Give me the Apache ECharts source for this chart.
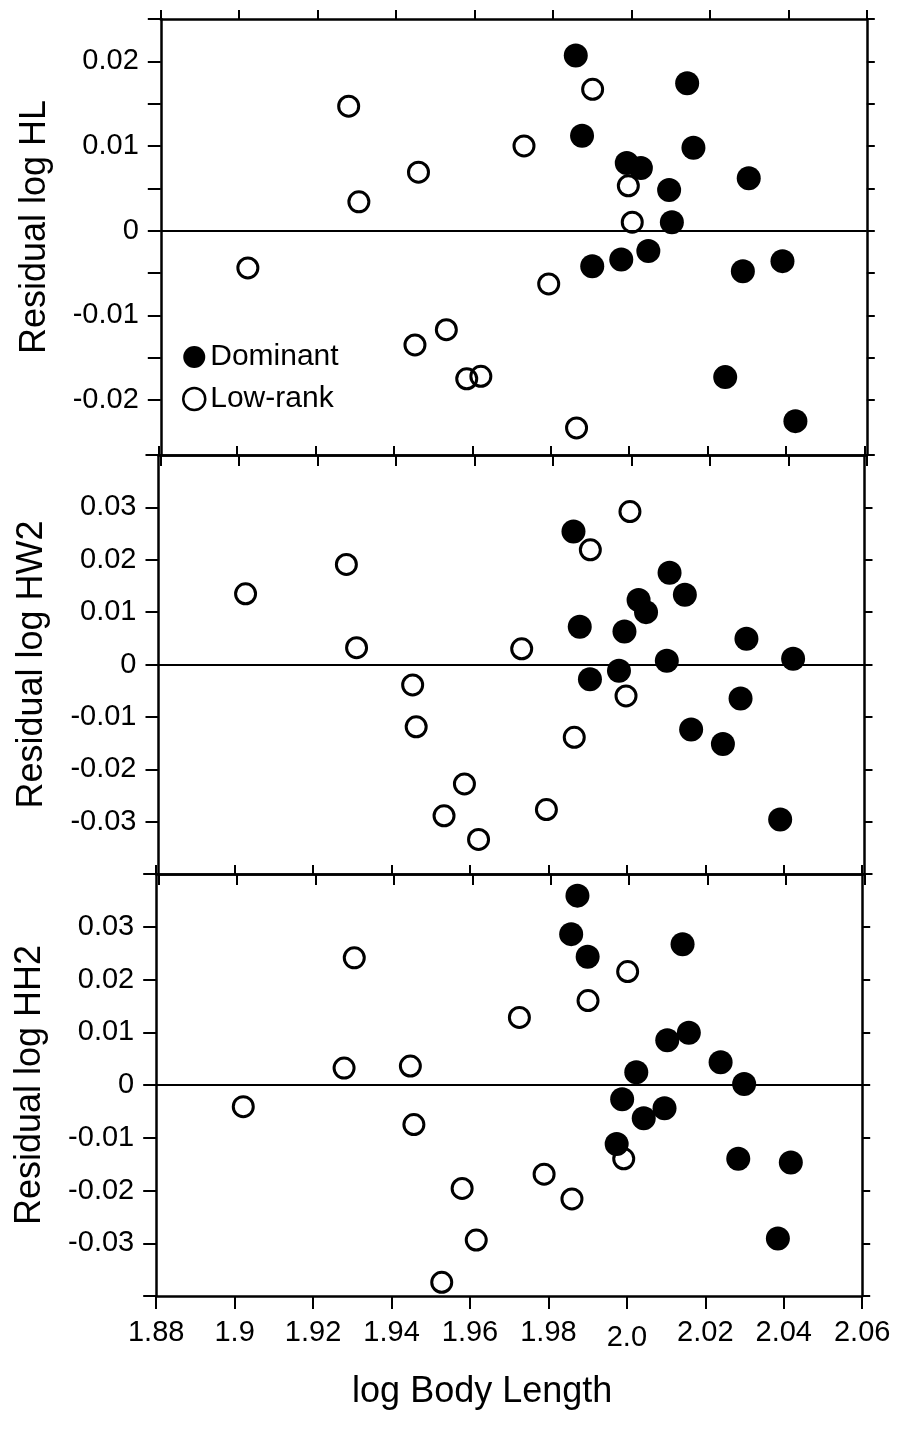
<!DOCTYPE html>
<html><head><meta charset="utf-8">
<script src="https://cdn.jsdelivr.net/npm/echarts@6/dist/echarts.min.js"></script>
<style>html,body{margin:0;padding:0;background:#fff}#c{width:900px;height:1445px}</style>
</head><body><div id="c"></div>
<script>
// ---- data ----
const xTickValues = [1.88, 1.90, 1.92, 1.94, 1.96, 1.98, 2.00, 2.02, 2.04, 2.06];
const xTickLabels = ['1.88', '1.9', '1.92', '1.94', '1.96', '1.98', '2.0', '2.02', '2.04', '2.06'];

const xDominant = [1.9858, 1.9874, 1.9900, 1.9974, 1.9988, 2.0024, 2.0043, 2.0096, 2.0103, 2.0142, 2.0158, 2.0239, 2.0284, 2.0299, 2.0385, 2.0418];
const hlDominant = [0.0207, 0.0112, -0.0042, -0.0034, 0.0080, 0.0074, -0.0024, 0.0048, 0.0010, 0.0174, 0.0098, -0.0173, -0.0048, 0.0062, -0.0036, -0.0225];
const hw2Dominant = [0.0254, 0.0072, -0.0028, -0.0012, 0.0063, 0.0123, 0.0100, 0.0007, 0.0175, 0.0133, -0.0124, -0.0152, -0.0065, 0.0049, -0.0296, 0.0011];
const hh2Dominant = [0.0286, 0.0359, 0.0243, -0.0112, -0.0027, 0.0024, -0.0063, -0.0044, 0.0085, 0.0267, 0.0099, 0.0043, -0.0140, 0.0002, -0.0291, -0.0147];

const xLowRank = [1.9022, 1.9279, 1.9305, 1.9448, 1.9457, 1.9528, 1.9580, 1.9616, 1.9726, 1.9789, 1.9860, 1.9901, 1.9992, 2.0002];
const hlLowRank = [-0.0044, 0.0147, 0.0034, -0.0135, 0.0069, -0.0117, -0.0175, -0.0172, 0.0100, -0.0063, -0.0233, 0.0167, 0.0053, 0.0010];
const hw2LowRank = [0.0135, 0.0191, 0.0032, -0.0039, -0.0119, -0.0289, -0.0228, -0.0334, 0.0030, -0.0277, -0.0139, 0.0219, -0.0060, 0.0292];
const hh2LowRank = [-0.0041, 0.0032, 0.0241, 0.0036, -0.0075, -0.0374, -0.0196, -0.0294, 0.0128, -0.0169, -0.0216, 0.0160, -0.0140, 0.0215];

const panelNames = ['Residual log HL', 'Residual log HW2', 'Residual log HH2'];
const panelMin = [-0.0265, -0.04, -0.04];
const panelMax = [0.025, 0.04, 0.04];
const yTickValuesHL = [-0.0265, -0.02, -0.015, -0.01, -0.005, 0, 0.005, 0.01, 0.015, 0.02, 0.025];
const yTickValuesHW2 = [-0.04, -0.03, -0.02, -0.01, 0, 0.01, 0.02, 0.03, 0.04];
const yTickValuesHH2 = [-0.04, -0.03, -0.02, -0.01, 0, 0.01, 0.02, 0.03, 0.04];
const yLabelValuesHL = [-0.02, -0.01, 0, 0.01, 0.02];
const yLabelValuesHW2 = [-0.03, -0.02, -0.01, 0, 0.01, 0.02, 0.03];
const yLabelValuesHH2 = [-0.03, -0.02, -0.01, 0, 0.01, 0.02, 0.03];

// ---- layout / style ----
const FONT = '"Liberation Sans", Arial, Helvetica, sans-serif';
const grids = [
  {left: 160.8, top: 19, width: 706, height: 436},
  {left: 158.5, top: 455, width: 706, height: 419},
  {left: 156.2, top: 874, width: 706, height: 422}
];
const domVals = [hlDominant, hw2Dominant, hh2Dominant];
const lowVals = [hlLowRank, hw2LowRank, hh2LowRank];
const yTicks = [yTickValuesHL, yTickValuesHW2, yTickValuesHH2];
const yLabels = [yLabelValuesHL, yLabelValuesHW2, yLabelValuesHH2];

function fmtX(v) {
  for (let i = 0; i < xTickValues.length; i++) {
    if (Math.abs(v - xTickValues[i]) < 1e-6) {
      return xTickLabels[i] === '2.0' ? '{low|' + xTickLabels[i] + '}' : xTickLabels[i];
    }
  }
  return '';
}
function fmtY(v) {
  if (Math.abs(v) < 1e-9) return '0';
  return String(+v.toFixed(3));
}
const zip = (xs, ys) => xs.map((x, i) => [x, ys[i]]);

const axisLineStyle = {color: '#000', width: 2.5};
const tickStyle = {color: '#000', width: 2};
const xAxes = [], yAxes = [], series = [];

grids.forEach((g, i) => {
  xAxes.push({
    type: 'value', gridIndex: i, position: 'bottom', min: 1.88, max: 2.06,
    axisLine: {show: true, onZero: false, lineStyle: axisLineStyle},
    axisTick: {show: true, inside: false, length: i === 2 ? 13 : 11, customValues: xTickValues, lineStyle: tickStyle},
    axisLabel: {
      show: i === 2, customValues: xTickValues, formatter: fmtX, margin: 22,
      fontSize: 29, fontFamily: FONT, color: '#000',
      rich: {low: {fontSize: 29, fontFamily: FONT, color: '#000', padding: [5, 0, 0, 0]}}
    },
    splitLine: {show: false},
    name: i === 2 ? 'log Body Length' : '',
    nameLocation: 'middle', nameGap: 78,
    nameTextStyle: {fontSize: 36, fontFamily: FONT, color: '#000', padding: [0, 54, 0, 0]}
  });
  xAxes.push({
    type: 'value', gridIndex: i, position: 'top', min: 1.88, max: 2.06,
    axisLine: {show: true, onZero: false, lineStyle: axisLineStyle},
    axisTick: {show: true, inside: false, length: 9, customValues: xTickValues, lineStyle: tickStyle},
    axisLabel: {show: false},
    splitLine: {show: false}
  });
  yAxes.push({
    type: 'value', gridIndex: i, position: 'left', min: panelMin[i], max: panelMax[i],
    axisLine: {show: true, onZero: false, lineStyle: axisLineStyle},
    axisTick: {show: true, inside: false, length: 13, customValues: yTicks[i], lineStyle: tickStyle},
    axisLabel: {show: true, customValues: yLabels[i], formatter: fmtY, margin: 22, fontSize: 29, fontFamily: FONT, color: '#000'},
    splitLine: {show: false},
    name: panelNames[i], nameLocation: 'middle', nameRotate: 90, nameGap: 108,
    nameTextStyle: {fontSize: 36, fontFamily: FONT, color: '#000', padding: i === 0 ? [0, 0, 0, 20] : 0}
  });
  yAxes.push({
    type: 'value', gridIndex: i, position: 'right', min: panelMin[i], max: panelMax[i],
    axisLine: {show: true, onZero: false, lineStyle: axisLineStyle},
    axisTick: {show: true, inside: false, length: 8, customValues: yTicks[i], lineStyle: tickStyle},
    axisLabel: {show: false},
    splitLine: {show: false}
  });
  series.push({
    type: 'scatter', name: 'Low-rank', xAxisIndex: 2 * i, yAxisIndex: 2 * i,
    data: zip(xLowRank, lowVals[i]), symbol: 'circle', symbolSize: 20,
    itemStyle: {color: 'rgba(255,255,255,0)', borderColor: '#000', borderWidth: 3, opacity: 1},
    emphasis: {disabled: true}, z: 3,
    markLine: {
      silent: true, symbol: 'none', label: {show: false}, animation: false,
      lineStyle: {color: '#000', width: 2, type: 'solid'},
      emphasis: {disabled: true},
      data: [{yAxis: 0}]
    }
  });
  series.push({
    type: 'scatter', name: 'Dominant', xAxisIndex: 2 * i, yAxisIndex: 2 * i,
    data: zip(xDominant, domVals[i]), symbol: 'circle', symbolSize: 24,
    itemStyle: {color: '#000', opacity: 1},
    emphasis: {disabled: true}, z: 4
  });
});

const chart = echarts.init(document.getElementById('c'), null, {renderer: 'canvas'});
chart.setOption({
  animation: false,
  backgroundColor: '#fff',
  grid: grids,
  xAxis: xAxes,
  yAxis: yAxes,
  legend: {
    orient: 'vertical', left: 177, top: 337, itemWidth: 22, itemHeight: 22, itemGap: 12,
    selectedMode: false,
    textStyle: {fontSize: 30, fontFamily: FONT, color: '#000'},
    data: [{name: 'Dominant', icon: 'circle'}, {name: 'Low-rank', icon: 'circle', itemStyle: {borderWidth: 2.5, color: 'rgba(255,255,255,0)', borderColor: '#000'}}]
  },
  series: series
});
</script></body></html>
